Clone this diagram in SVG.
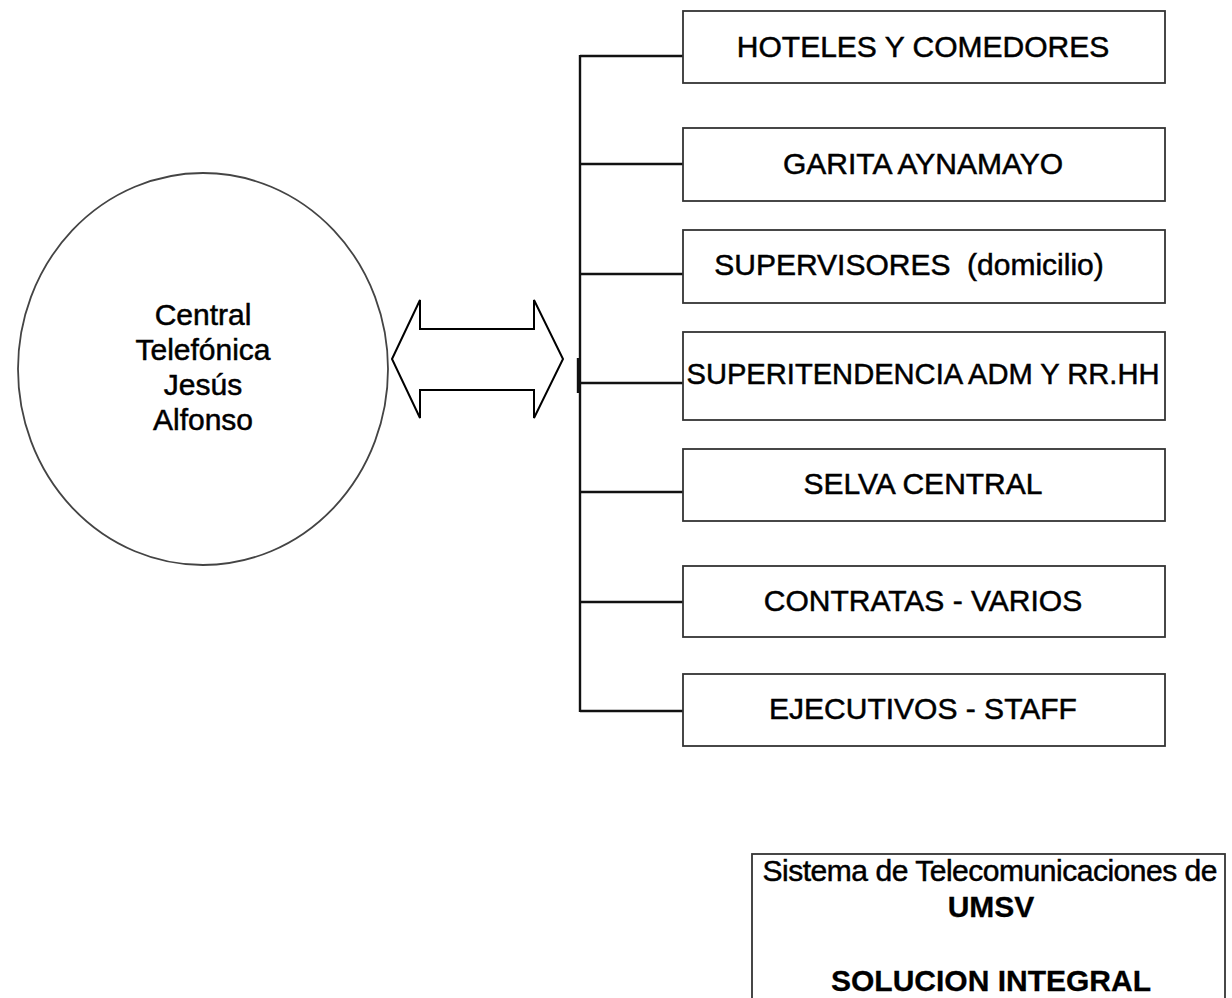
<svg xmlns="http://www.w3.org/2000/svg" width="1232" height="998" viewBox="0 0 1232 998">
<style>
  text { font-family: "Liberation Sans", Arial, sans-serif; font-size: 30px; fill: #000; stroke: #000; stroke-width: 0.5; }
  .lbl { text-anchor: middle; white-space: pre; }
  .box { fill: #fff; stroke: #333; stroke-width: 1.8; }
  .conn { stroke: #111; stroke-width: 2.4; fill: none; }
  .bold { font-weight: bold; stroke-width: 0.3; }
</style>
<rect width="1232" height="998" fill="#fff"/>

<g id="central">
  <ellipse cx="203" cy="369" rx="185" ry="196" fill="#fff" stroke="#444" stroke-width="1.8"/>
  <text class="lbl" x="203" y="325" font-size="28">Central</text>
  <text class="lbl" x="203" y="360" font-size="28">Telefónica</text>
  <text class="lbl" x="203" y="395" font-size="28">Jesús</text>
  <text class="lbl" x="203" y="430" font-size="28">Alfonso</text>
</g>

<g id="double-arrow">
  <polygon points="392,359 420,300 420,329 534,329 534,300 563,359 534,418 534,390 420,390 420,418" fill="#fff" stroke="#000" stroke-width="2" stroke-linejoin="miter"/>
</g>

<g id="connectors">
  <line class="conn" x1="580" y1="55" x2="580" y2="712" stroke-width="2.8"/>
  <line class="conn" x1="578" y1="358" x2="578" y2="393" stroke-width="2"/>
  <line class="conn" x1="580" y1="56" x2="683" y2="56"/>
  <line class="conn" x1="580" y1="164" x2="683" y2="164"/>
  <line class="conn" x1="580" y1="274" x2="683" y2="274"/>
  <line class="conn" x1="580" y1="383" x2="683" y2="383" stroke-width="2"/>
  <line class="conn" x1="580" y1="492" x2="683" y2="492"/>
  <line class="conn" x1="580" y1="602" x2="683" y2="602"/>
  <line class="conn" x1="580" y1="711" x2="683" y2="711"/>
</g>

<g id="n1">
  <rect class="box" x="683" y="11" width="482" height="72"/>
  <text class="lbl" x="923" y="57">HOTELES Y COMEDORES</text>
</g>
<g id="n2">
  <rect class="box" x="683" y="128" width="482" height="73"/>
  <text class="lbl" x="923" y="174">GARITA AYNAMAYO</text>
</g>
<g id="n3">
  <rect class="box" x="683" y="230" width="482" height="73"/>
  <text class="lbl" x="909" y="275">SUPERVISORES  (domicilio)</text>
</g>
<g id="n4">
  <rect class="box" x="683" y="332" width="482" height="88"/>
  <text class="lbl" x="923" y="384" textLength="473" lengthAdjust="spacingAndGlyphs">SUPERITENDENCIA ADM Y RR.HH</text>
</g>
<g id="n5">
  <rect class="box" x="683" y="449" width="482" height="72"/>
  <text class="lbl" x="923" y="494">SELVA CENTRAL</text>
</g>
<g id="n6">
  <rect class="box" x="683" y="566" width="482" height="71"/>
  <text class="lbl" x="923" y="611">CONTRATAS - VARIOS</text>
</g>
<g id="n7">
  <rect class="box" x="683" y="674" width="482" height="72"/>
  <text class="lbl" x="923" y="719">EJECUTIVOS - STAFF</text>
</g>

<g id="title">
  <rect class="box" x="752" y="854" width="473" height="160"/>
  <text class="lbl" x="990" y="881" font-size="29" textLength="455" lengthAdjust="spacing">Sistema de Telecomunicaciones de</text>
  <text class="lbl bold" x="991" y="917" font-size="29">UMSV</text>
  <text class="lbl bold" x="991" y="991" font-size="29">SOLUCION INTEGRAL</text>
</g>
</svg>
